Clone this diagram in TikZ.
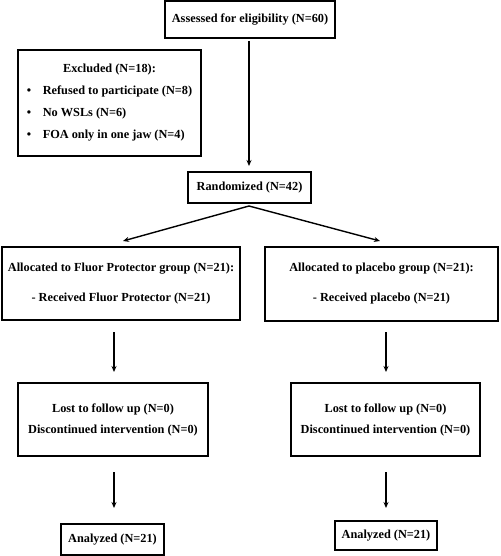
\documentclass[tikz,border=0pt]{standalone}
\usepackage{fontspec}
\setmainfont{Liberation Serif}
\usetikzlibrary{arrows.meta}
\begin{document}
\begin{tikzpicture}[x=1pt,y=-1pt,
  box/.style={draw,line width=1.4pt,inner sep=0pt,align=center,font=\bfseries\fontsize{12.3}{14}\selectfont},
  arr/.style={line width=1.4pt,-{Stealth[length=6pt,width=5pt]}}]
\useasboundingbox (0,0) rectangle (500,556);
\node[box,minimum width=170pt,minimum height=37pt] (assess) at (250,19.5) {Assessed for eligibility (N=60)};
\node[box,minimum width=183pt,minimum height=106pt] (excl) at (109.5,103) {%
  \begin{tabular}{@{}p{16pt}@{}l@{}}
  \multicolumn{2}{c}{Excluded (N=18):}\\[8pt]
  \textbullet & Refused to participate (N=8)\\[8pt]
  \textbullet & No WSLs (N=6)\\[8pt]
  \textbullet & FOA only in one jaw (N=4)
  \end{tabular}};
\node[box,minimum width=123pt,minimum height=31pt] (rand) at (249.5,187.5) {Randomized (N=42)};
\node[box,minimum width=238pt,minimum height=73pt] (fp) at (121,283.5) {Allocated to Fluor Protector group (N=21):\\[16pt] - Received Fluor Protector (N=21)};
\node[box,minimum width=233pt,minimum height=74pt] (pl) at (381.5,284) {Allocated to placebo group (N=21):\\[16pt] - Received placebo (N=21)};
\node[box,minimum width=190pt,minimum height=73pt] (lost1) at (113,419.5) {Lost to follow up (N=0)\\[7pt]Discontinued intervention (N=0)};
\node[box,minimum width=189pt,minimum height=73pt] (lost2) at (385.5,419.5) {Lost to follow up (N=0)\\[7pt]Discontinued intervention (N=0)};
\node[box,minimum width=103pt,minimum height=31pt] (an1) at (112.5,539.5) {Analyzed (N=21)};
\node[box,minimum width=102pt,minimum height=29pt] (an2) at (386,535.5) {Analyzed (N=21)};
\coordinate (a1) at (249,41);
\coordinate (a2) at (249,166);
\coordinate (r0) at (249,206);
\coordinate (rl) at (123,241);
\coordinate (rr) at (380,241);
\coordinate (l1s) at (114,332); \coordinate (l1e) at (114,372);
\coordinate (r1s) at (386,332); \coordinate (r1e) at (386,372);
\coordinate (l2s) at (114,472); \coordinate (l2e) at (114,508);
\coordinate (r2s) at (386,472); \coordinate (r2e) at (386,508);
\draw[arr] (a1) -- (a2);
\draw[arr] (r0) -- (rl);
\draw[arr] (r0) -- (rr);
\draw[arr] (l1s) -- (l1e);
\draw[arr] (r1s) -- (r1e);
\draw[arr] (l2s) -- (l2e);
\draw[arr] (r2s) -- (r2e);
\end{tikzpicture}
\end{document}
